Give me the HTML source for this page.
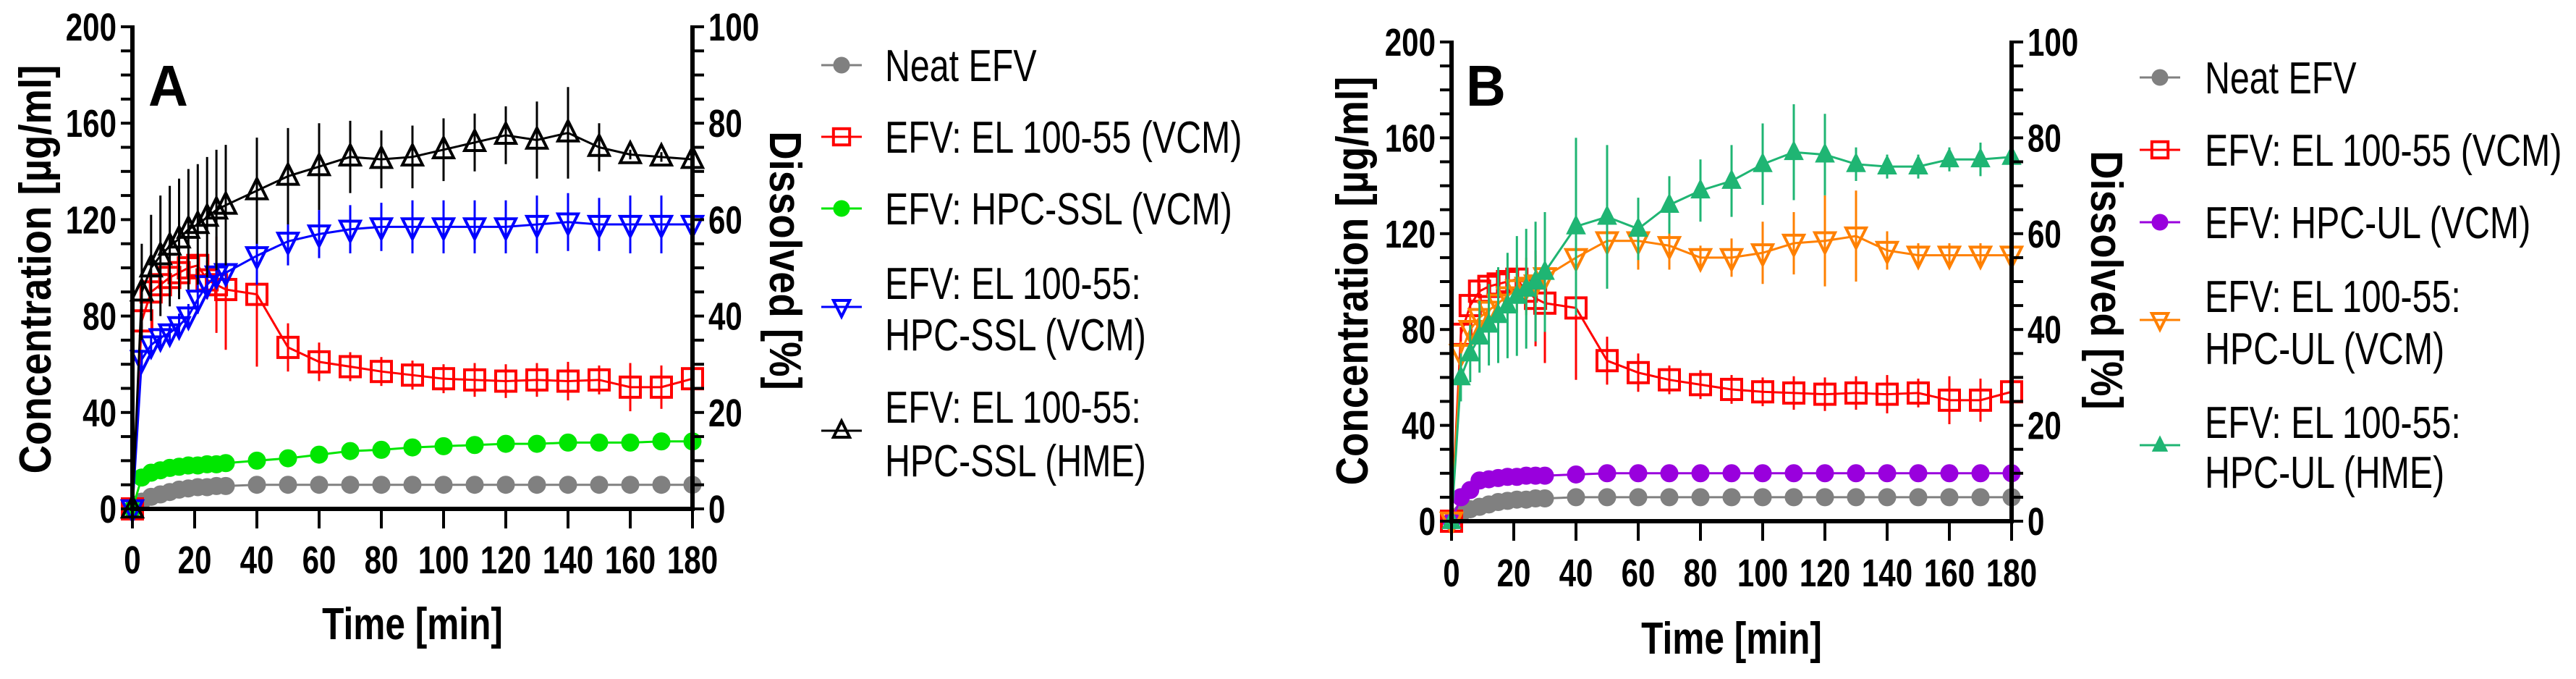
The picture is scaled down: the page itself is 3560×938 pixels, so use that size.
<!DOCTYPE html>
<html><head><meta charset="utf-8"><style>
html,body{margin:0;padding:0;background:#fff;}
svg{display:block;}
</style></head><body>
<svg id="fig" width="3560" height="938" viewBox="0 0 3560 938" xmlns="http://www.w3.org/2000/svg"></svg>
<script>
// ---------- DATA ----------
const times = [0,3,6,9,12,15,18,21,24,27,30,40,50,60,70,80,90,100,110,120,130,140,150,160,170,180];
const xTicks = [0,20,40,60,80,100,120,140,160,180];
const yTicksLeft = [0,40,80,120,160,200];
const yTicksRight = [0,20,40,60,80,100];

// Panel A
const neatA   = [0,3,5,6,7,8,8.5,9,9,9.5,9.5,10,10,10,10,10,10,10,10,10,10,10,10,10,10,10];
const hpcSslA = [0,13,15,16,17,17.5,18,18,18.5,18.5,19,20,21,22.5,24,24.5,25.5,26,26.5,27,27,27.5,27.5,27.5,28,28];
const elA     = [0,78,90,93,96,98,100,101,95,93,91,89,67,61,59,57,55.5,54,53.5,53,53.5,53,53.5,50.5,50.5,54];
const elErrA  = [0,3,3,3,3,3,4,5,8,20,25,30,10,8,6,6,6,6,7,7,7,8,6,10,9,10];
const elSslA  = [0,62,68,71,73,76,80,87,93,97,98,105,111,114,116,117,117,117,117,117,118,119,118,118,118,118];
const elSslErrA = [0,4,4,4,4,5,5,6,5,5,4,12,10,10,10,10,11,11,11,11,12,12,11,12,12,12];
const hmeA    = [0,90,100,105,109,112,116,118,121,124,126,132,138,142,146,145,146,149,152,155,153,156,150,147,146,145];
const hmeErrA = [0,20,22,25,25,25,25,25,25,25,25,22,20,18,15,12,13,13,12,12,16,19,10,2,2,2];

// Panel B
const neatB   = [0,3,5,6,7,8,8.5,9,9,9.5,9.5,10,10,10,10,10,10,10,10,10,10,10,10,10,10,10];
const hpcUlB  = [0,10,13,17,17.5,18,18.5,18.5,19,19,19,19.5,20,20,20,20,20,20,20,20,20,20,20,20,20,20];
const elB     = [0,78,90,96,98,99,100,101,96,93,91,89,67,62,59,57,55,54,53.5,53,53.5,53,53.5,50.5,50.5,54];
const elErrB  = [0,3,3,3,3,3,4,5,8,20,25,30,10,8,6,6,6,6,7,7,7,8,6,10,9,10];
const elUlB   = [0,70,80,85,88,91,94,97,98,99,102,110,117,117,115,110,110,112,116,117,119,113,111,111,111,111];
const elUlErrB = [0,5,6,8,8,8,8,10,12,12,14,18,19,12,10,5,8,13,13,19,19,8,5,5,5,5];
const hmeB    = [0,60,70,77,82,86,90,94,97,100,104,123,127,122,132,138,142,149,154,153,149,148,148,151,151,152];
const hmeErrB = [0,10,12,15,17,20,22,25,25,25,25,37,30,13,12,13,15,17,20,17,7,5,5,5,7,7];

// ---------- DRAWING ----------
const NS = "http://www.w3.org/2000/svg";
const svg = document.getElementById('fig');
function el(tag, attrs, parent){
  const e = document.createElementNS(NS, tag);
  for (const k in attrs) e.setAttribute(k, attrs[k]);
  (parent||svg).appendChild(e);
  return e;
}
function txt(parent, s, x, y, size, weight, anchor, sx, rot){
  const g = el('g', {transform:`translate(${x},${y}) rotate(${rot||0}) scale(${sx},1)`}, parent);
  const t = el('text', {x:0,y:0,'font-family':'"Liberation Sans", Arial, sans-serif','font-size':size,'font-weight':weight,'text-anchor':anchor,fill:'#000'}, g);
  t.textContent = s;
  return t;
}
function marker(parent, kind, color, x, y, sz){
  let m;
  if (kind==='circle') m = el('circle',{cx:x,cy:y,r:sz/2,fill:color,stroke:color,'stroke-width':1},parent);
  else if (kind==='square') m = el('rect',{x:x-sz/2,y:y-sz/2,width:sz,height:sz,fill:'none',stroke:color,'stroke-width':4},parent);
  else if (kind==='tri-up-open') m = el('polygon',{points:`${x},${y-sz*0.6} ${x-sz/2},${y+sz*0.4} ${x+sz/2},${y+sz*0.4}`,fill:'none',stroke:color,'stroke-width':4},parent);
  else if (kind==='tri-up') m = el('polygon',{points:`${x},${y-sz*0.6} ${x-sz/2},${y+sz*0.4} ${x+sz/2},${y+sz*0.4}`,fill:color,stroke:color,'stroke-width':1},parent);
  else m = el('polygon',{points:`${x},${y+sz*0.6} ${x-sz/2},${y-sz*0.4} ${x+sz/2},${y-sz*0.4}`,fill:'none',stroke:color,'stroke-width':4},parent);
  return m;
}

function panel(cfg){
  const g = el('g',{});
  
  
  const X = t => cfg.x0 + (cfg.x1-cfg.x0)*t/180;
  const Y = v => cfg.yb - (cfg.yb-cfg.yt)*v/200;
  cfg.series.forEach(s=>{
    const sg = el('g',{},g);
    
    
    if (s.err){
      s.vals.forEach((v,i)=>{
        if (!s.err[i]) return;
        const b = el('line',{x1:X(times[i]),x2:X(times[i]),y1:Y(v+s.err[i]),y2:Y(Math.max(0,v-s.err[i])),stroke:s.color,'stroke-width':3},sg);
        
        
      });
    }
    const pts = s.vals.map((v,i)=>X(times[i])+','+Y(v)).join(' ');
    const pl = el('polyline',{points:pts,fill:'none',stroke:s.color,'stroke-width':3},sg);
    
    
    s.vals.forEach((v,i)=>{
      const m = marker(sg, s.kind, s.color, X(times[i]), Y(v), s.size);
      
      
    });
  });
  const ax = el('g',{stroke:'#000'},g);
  
  
  el('line',{x1:cfg.x0,x2:cfg.x0,y1:cfg.yt-2,y2:cfg.yb+3,'stroke-width':6},ax);
  el('line',{x1:cfg.x1,x2:cfg.x1,y1:cfg.yt-2,y2:cfg.yb+3,'stroke-width':6},ax);
  el('line',{x1:cfg.x0-3,x2:cfg.x1+3,y1:cfg.yb,y2:cfg.yb,'stroke-width':6},ax);
  for (let v=0; v<=200; v+=10){
    el('line',{x1:cfg.x0-16,x2:cfg.x0,y1:Y(v),y2:Y(v),'stroke-width':4},ax);
    el('line',{x1:cfg.x1,x2:cfg.x1+16,y1:Y(v),y2:Y(v),'stroke-width':4},ax);
  }
  xTicks.forEach(t=>{
    el('line',{x1:X(t),x2:X(t),y1:cfg.yb,y2:cfg.yb+27,'stroke-width':4},ax);
    const l = txt(g, String(t), X(t), cfg.xlab, 54, 'bold', 'middle', 0.78);
    
    
  });
  yTicksLeft.forEach(v=>{
    const l = txt(g, String(v), cfg.x0-22, Y(v)+19, 54, 'bold', 'end', 0.78);
    
    
  });
  yTicksRight.forEach(v=>{
    const l = txt(g, String(v), cfg.x1+22, Y(v*2)+19, 54, 'bold', 'start', 0.78);
    
    
  });
  let t;
  t = txt(g, 'Time [min]', (cfg.x0+cfg.x1)/2, cfg.tlab, 62, 'bold', 'middle', 0.8);
  
  
  t = txt(g, 'Concentration [µg/ml]', cfg.ylabX, cfg.ylabY, 62, 'bold', 'middle', 0.88, -90);
  
  
  t = txt(g, 'Dissolved [%]', cfg.rlabX, cfg.rlabY, 62, 'bold', 'middle', 0.88, 90);
  
  
  t = txt(g, cfg.letter, cfg.letterX, cfg.letterY, 80, 'bold', 'start', 0.95);
  
  
  const lg = el('g',{},g);
  
  
  cfg.series.forEach((s,i)=>{
    const e = el('g',{},lg);
    
    
    const L = cfg.legend[i];
    el('line',{x1:cfg.lmx-28,x2:cfg.lmx+28,y1:L.my,y2:L.my,stroke:s.color,'stroke-width':3},e);
    marker(e, s.kind, s.color, cfg.lmx, L.my, s.kind==='circle'?22:s.size*0.8);
    L.lines.forEach((ln,j)=>{
      txt(e, ln, cfg.ltx, L.ly[j], 62, 'normal', 'start', 0.78);
    });
  });
}

panel({name:'panel-a', x0:183, x1:957, yt:37, yb:703, xlab:792, tlab:883,
  ylabX:70, ylabY:372, rlabX:1064, rlabY:360, letter:'A', letterX:205, letterY:146,
  lmx:1163, ltx:1223,
  series:[
    {name:'series-neat-efv', vals:neatA, color:'#808080', kind:'circle', size:24},
    {name:'series-el-vcm', vals:elA, err:elErrA, color:'#ff0000', kind:'square', size:28},
    {name:'series-hpc-ssl-vcm', vals:hpcSslA, color:'#00e600', kind:'circle', size:24},
    {name:'series-el-hpc-ssl-vcm', vals:elSslA, err:elSslErrA, color:'#0000ff', kind:'tri-down', size:28},
    {name:'series-el-hpc-ssl-hme', vals:hmeA, err:hmeErrA, color:'#000000', kind:'tri-up-open', size:28}
  ],
  legend:[
    {my:90, lines:['Neat EFV'], ly:[112]},
    {my:189, lines:['EFV: EL 100-55 (VCM)'], ly:[211]},
    {my:288, lines:['EFV: HPC-SSL (VCM)'], ly:[310]},
    {my:424, lines:['EFV: EL 100-55:','HPC-SSL (VCM)'], ly:[413,484]},
    {my:595, lines:['EFV: EL 100-55:','HPC-SSL (HME)'], ly:[584,658]}
  ]});

panel({name:'panel-b', x0:2006, x1:2780, yt:58, yb:720, xlab:810, tlab:903,
  ylabX:1890, ylabY:388, rlabX:2890, rlabY:387, letter:'B', letterX:2026, letterY:146,
  lmx:2985, ltx:3047,
  series:[
    {name:'series-neat-efv', vals:neatB, color:'#808080', kind:'circle', size:24},
    {name:'series-el-vcm', vals:elB, err:elErrB, color:'#ff0000', kind:'square', size:28},
    {name:'series-hpc-ul-vcm', vals:hpcUlB, color:'#9900dd', kind:'circle', size:24},
    {name:'series-el-hpc-ul-vcm', vals:elUlB, err:elUlErrB, color:'#ff8000', kind:'tri-down', size:28},
    {name:'series-el-hpc-ul-hme', vals:hmeB, err:hmeErrB, color:'#1fb573', kind:'tri-up', size:26}
  ],
  legend:[
    {my:107, lines:['Neat EFV'], ly:[129]},
    {my:207, lines:['EFV: EL 100-55 (VCM)'], ly:[229]},
    {my:307, lines:['EFV: HPC-UL (VCM)'], ly:[329]},
    {my:442, lines:['EFV: EL 100-55:','HPC-UL (VCM)'], ly:[431,503]},
    {my:615, lines:['EFV: EL 100-55:','HPC-UL (HME)'], ly:[605,674]}
  ]});
</script>
</body></html>
